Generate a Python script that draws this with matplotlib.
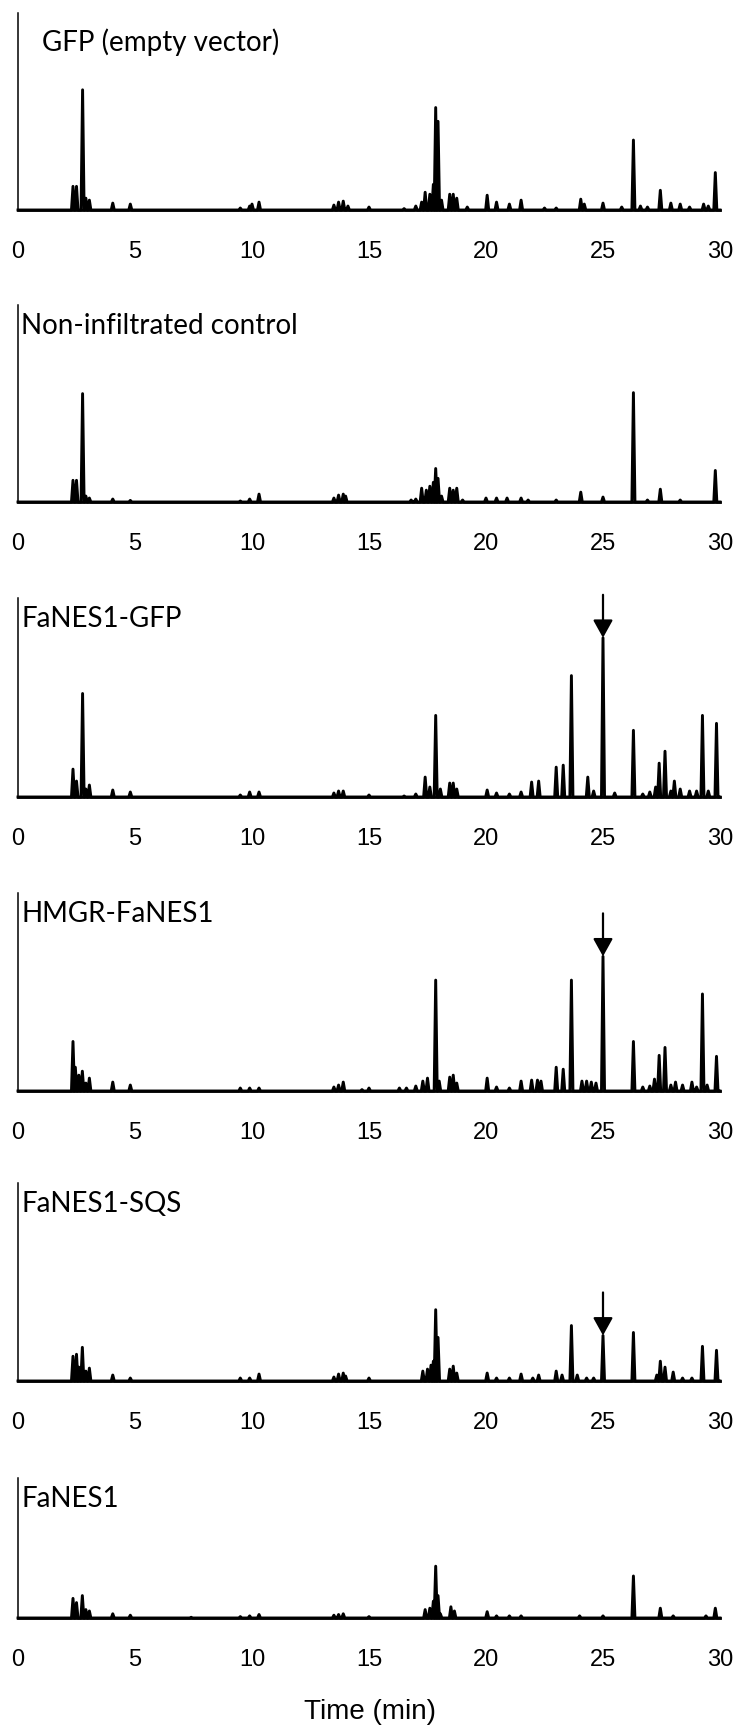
import numpy as np
import matplotlib
matplotlib.use('Agg')
import matplotlib.pyplot as plt

plt.rcParams['font.family'] = ['Liberation Sans', 'DejaVu Sans']

# ------------------------------------------------------------------
# peak lists: retention time (min) and
# height in % of the panel's y-axis
# ------------------------------------------------------------------
gfp_t = [2.35, 2.5, 2.76, 2.9, 3.05, 4.05, 4.8, 9.5, 9.9, 10.0, 10.3, 13.5, 13.7, 13.9, 14.1,
         15.0, 16.5, 17.0, 17.25, 17.4, 17.6, 17.75, 17.85, 17.95, 18.1, 18.45, 18.6, 18.75,
         19.2, 20.05, 20.45, 21.0, 21.5, 22.5, 23.0, 24.05, 24.2, 25.0, 25.8, 26.3, 26.6,
         26.9, 27.45, 27.9, 28.3, 28.7, 29.3, 29.5, 29.8]
gfp_h = [12, 12, 61, 6, 5, 3.5, 3, 1, 2, 3, 4, 2.5, 4, 4.5, 2,
         1.5, 0.7, 2, 4, 9, 8, 13, 52, 45, 5, 8, 8, 6,
         1.5, 7.5, 4, 3, 5, 1, 1, 5.5, 3, 3.5, 1.5, 35.5, 2,
         1.5, 10, 3.5, 3, 1.5, 3, 2, 19]

ctrl_t = [2.35, 2.5, 2.76, 2.9, 3.05, 4.05, 4.8, 9.5, 9.9, 10.3, 13.5, 13.7, 13.9, 14.0,
          16.8, 17.0, 17.25, 17.45, 17.6, 17.75, 17.85, 17.95, 18.1, 18.45, 18.6, 18.75,
          19.0, 20.0, 20.45, 20.9, 21.5, 21.8, 23.0, 24.05, 25.0, 26.3, 26.9, 27.45, 28.3, 29.8]
ctrl_h = [11, 11, 55, 3, 2, 1.5, 0.8, 0.5, 1.5, 4, 2, 3.5, 4, 3,
          1, 1.5, 7, 6, 8, 10, 17, 12, 3, 7, 6, 7,
          1, 2, 2, 2, 2, 1, 1, 5, 2.5, 55.5, 1, 6.5, 1, 16]

nes_gfp_t = [2.35, 2.5, 2.76, 2.9, 3.05, 4.05, 4.8, 9.5, 9.9, 10.3, 13.5, 13.7, 13.9, 15.0,
             16.5, 17.0, 17.4, 17.6, 17.85, 18.05, 18.45, 18.6, 18.75, 20.05, 20.45, 21.0,
             21.5, 21.95, 22.25, 23.0, 23.3, 23.65, 24.35, 24.6, 25.0, 25.5, 26.3, 26.7,
             27.0, 27.25, 27.4, 27.65, 27.9, 28.05, 28.3, 28.7, 29.0, 29.25, 29.5, 29.85]
nes_gfp_h = [14, 8, 52, 4, 6, 3.5, 2.5, 1, 2.5, 2.5, 2, 3, 3, 1,
             0.5, 1.5, 10, 5, 41, 4, 7, 7, 4, 3.5, 2, 1.5,
             2.5, 7.5, 8, 15, 16, 61, 10, 3, 80, 2, 33.5, 1.5,
             2.5, 5, 17, 23, 3, 8, 4, 3, 3, 41, 3, 37]

hmgr_t = [2.35, 2.45, 2.6, 2.75, 2.9, 3.05, 4.05, 4.8, 9.5, 9.9, 10.3, 13.5, 13.7, 13.9, 14.7,
          15.0, 16.3, 16.6, 17.0, 17.3, 17.5, 17.85, 18.0, 18.45, 18.6, 18.75, 20.05, 20.45,
          21.0, 21.5, 21.95, 22.2, 22.35, 23.0, 23.3, 23.65, 24.1, 24.3, 24.5, 24.7, 25.0,
          26.3, 26.7, 27.0, 27.2, 27.4, 27.65, 27.9, 28.1, 28.4, 28.8, 29.0, 29.25, 29.45, 29.85]
hmgr_h = [25, 12, 8, 10, 4, 6.5, 4.5, 3, 1.5, 1.5, 1.5, 2, 3, 4.5, 0.7,
          1.5, 1.5, 1.5, 2.5, 5, 6.5, 56, 5, 7, 8, 4, 6.5, 2,
          1.5, 5, 5.5, 5.5, 5, 12, 11, 56, 5, 5, 4.5, 4, 68,
          25, 2, 2.5, 6, 18, 22, 3, 4.5, 3, 4.5, 2, 49, 3, 17.5]

sqs_t = [2.35, 2.5, 2.6, 2.75, 2.9, 3.05, 4.05, 4.8, 9.5, 9.9, 10.3, 13.5, 13.7, 13.9, 14.0,
         15.0, 17.3, 17.5, 17.65, 17.75, 17.85, 17.95, 18.45, 18.6, 18.75, 20.05, 20.45,
         21.0, 21.5, 22.0, 22.25, 23.0, 23.25, 23.65, 23.9, 24.3, 24.6, 25.0, 26.3, 27.3,
         27.45, 27.65, 28.0, 28.4, 28.8, 29.25, 29.85]
sqs_h = [12.5, 13.5, 7, 17, 5, 6.5, 3, 1.5, 1.5, 1.5, 3.5, 2, 3.5, 4, 2.5,
         1.5, 5, 6, 8, 10, 36, 22, 6, 7.5, 4, 4, 1.5,
         1.5, 3.5, 1.5, 3, 5, 3, 28, 3, 1.5, 1.5, 23, 24.5, 3,
         10, 7, 4.5, 1.5, 1.5, 17.5, 15.5]

nes_t = [2.35, 2.5, 2.75, 2.9, 3.05, 4.05, 4.8, 7.4, 9.5, 9.9, 10.3, 13.5, 13.7, 13.9, 15.0,
         17.4, 17.6, 17.75, 17.85, 17.95, 18.05, 18.5, 18.65, 20.05, 20.45, 21.0, 21.5,
         24.0, 25.0, 26.3, 27.45, 28.0, 29.4, 29.8]
nes_h = [14, 11, 16, 6, 5, 3, 2, 0.5, 1, 1.5, 2.5, 2, 2.5, 3, 1,
         6, 7, 12, 37, 16, 3, 8, 5, 4.5, 1.5, 1.5, 1.5,
         1.5, 1.5, 30, 7, 1.5, 1.5, 7]

labels = ['GFP (empty vector)', 'Non-infiltrated control', 'FaNES1-GFP',
          'HMGR-FaNES1', 'FaNES1-SQS', 'FaNES1']
series = [(gfp_t, gfp_h), (ctrl_t, ctrl_h), (nes_gfp_t, nes_gfp_h),
          (hmgr_t, hmgr_h), (sqs_t, sqs_h), (nes_t, nes_h)]
arrow_time = 25.0
arrow_panels = [2, 3, 4]
xticks = [0, 5, 10, 15, 20, 25, 30]

# panel placement, pixels (top of y-axis, baseline)
W, H = 739, 1726
tops = [13, 305, 598, 893, 1183, 1478]
bases = [210, 502, 797, 1091, 1381, 1618]
x0, x1 = 18, 720
hw = 0.065   # half width of a drawn peak, min


def trace(times, heights):
    x = [0.0]
    y = [0.0]
    for t, h in zip(times, heights):
        x += [t - hw, t, t + hw]
        y += [0, h, 0]
    x.append(30.0)
    y.append(0.0)
    return x, y


fig = plt.figure(figsize=(W / 100, H / 100), dpi=100)

for i, (lab, (t, h)) in enumerate(zip(labels, series)):
    ax = fig.add_axes([x0 / W, 1 - bases[i] / H, (x1 - x0) / W, (bases[i] - tops[i]) / H])
    x, y = trace(t, h)
    ax.plot(x, y, color='black', lw=2.1, solid_joinstyle='round', clip_on=False)
    ax.set_xlim(0, 30)
    ax.set_ylim(0, 100)
    for s in ('top', 'right'):
        ax.spines[s].set_visible(False)
    ax.spines['left'].set_linewidth(1.1)
    ax.spines['bottom'].set_linewidth(2.0)
    ax.set_yticks([])
    ax.set_xticks(xticks)
    ax.set_xticklabels([str(v) for v in xticks])
    ax.tick_params(axis='x', length=0, pad=22, labelsize=17)

    if i == 0:
        dx, dy = 24, 29
    else:
        dx, dy = 3, 21
    ax.annotate(lab, xy=(0, 1), xycoords='axes fraction',
                xytext=(dx * 0.72, -dy * 0.72), textcoords='offset points',
                ha='left', va='center', fontsize=20, family=['Lato', 'DejaVu Sans'])

    if i in arrow_panels:
        peak = h[t.index(arrow_time)]
        ax.annotate('', xy=(arrow_time, peak), xytext=(0, 43 * 0.72),
                    textcoords='offset points', annotation_clip=False,
                    arrowprops=dict(arrowstyle='-|>,head_length=0.9,head_width=0.5',
                                    mutation_scale=12, lw=1.6, color='black',
                                    shrinkA=0, shrinkB=0))

fig.text(370 / W, 1 - 1712 / H, 'Time (min)', ha='center', va='center', fontsize=20)

fig.savefig('out.png', dpi=100)
